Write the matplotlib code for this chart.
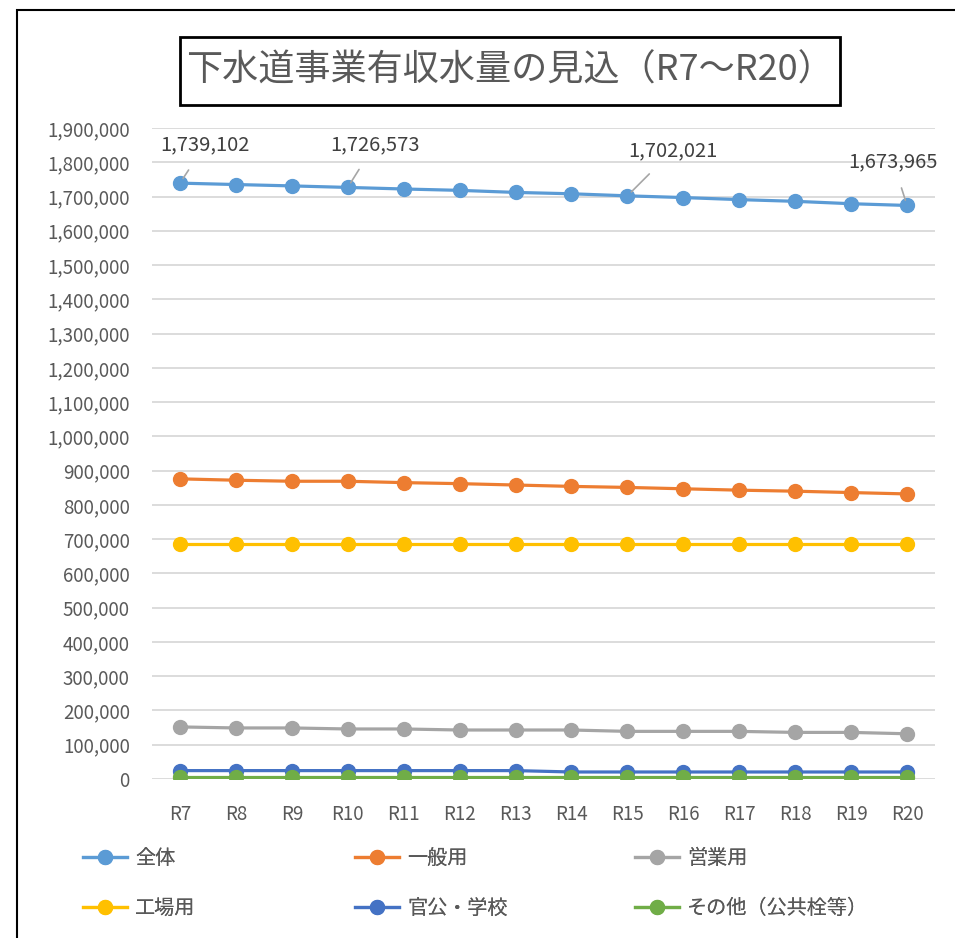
import matplotlib
matplotlib.use("Agg")
import matplotlib.pyplot as plt
from matplotlib.patches import Rectangle
from matplotlib.ticker import FuncFormatter

plt.rcParams['font.family'] = ['Noto Sans CJK JP', 'DejaVu Sans']

# データ
years = ['R7', 'R8', 'R9', 'R10', 'R11', 'R12', 'R13',
         'R14', 'R15', 'R16', 'R17', 'R18', 'R19', 'R20']
zentai = [1739102, 1735000, 1731000, 1726573, 1722000, 1718000, 1712000,
          1708000, 1702021, 1697000, 1691000, 1686000, 1679000, 1673965]
ippan = [876000, 872000, 869000, 869000, 865000, 862000, 858000,
         854000, 851000, 847000, 843000, 840000, 836000, 832000]
eigyo = [152000, 149000, 149000, 146000, 146000, 143000, 143000,
         143000, 139000, 139000, 139000, 136000, 136000, 132000]
kojo = [686000] * 14
kanko = [24500, 24500, 24500, 24500, 24500, 24500, 24500,
         20500, 20500, 20500, 20500, 20500, 20500, 20500]
sonota = [6000] * 14

series = [
    ('全体', zentai, '#5B9BD5'),
    ('一般用', ippan, '#ED7D31'),
    ('営業用', eigyo, '#A5A5A5'),
    ('工場用', kojo, '#FFC000'),
    ('官公・学校', kanko, '#4472C4'),
    ('その他（公共栓等）', sonota, '#70AD47'),
]

# ラベルを付ける点(インデックス)とオフセット(px)
label_idx = [0, 3, 8, 13]
label_off = [(25, 38), (27, 43), (45, 45), (-14, 44)]

W, H = 955, 938
fig = plt.figure(figsize=(W / 100, H / 100), dpi=100)
fig.patch.set_facecolor('white')

# 外枠
fig.patches.append(Rectangle((17 / W, -0.05), 1.1, 1 - 10 / H + 0.05,
                             transform=fig.transFigure, fill=False,
                             edgecolor='black', lw=1.5))

ax = fig.add_axes([152 / W, 1 - 779 / H, (935 - 152) / W, (779 - 128) / H])
x = list(range(len(years)))
lines = []
for name, vals, col in series:
    ln, = ax.plot(x, vals, color=col, lw=2.3, marker='o', markersize=10,
                  label=name, zorder=3)
    lines.append(ln)

for i, (dx, dy) in zip(label_idx, label_off):
    ax.annotate(f'{zentai[i]:,}', xy=(x[i], zentai[i]),
                xytext=(dx, dy), textcoords='offset pixels',
                ha='center', va='center', fontsize=14.5, color='#404040',
                arrowprops=dict(arrowstyle='-', color='#A6A6A6', lw=1.2,
                                shrinkA=10, shrinkB=4))

ax.set_xlim(-0.5, len(years) - 0.5)
ax.set_ylim(0, 1900000)
ax.set_yticks(range(0, 1900001, 100000))
ax.yaxis.set_major_formatter(FuncFormatter(lambda v, p: f'{int(v):,}'))
ax.set_xticks(x)
ax.set_xticklabels(years)
ax.tick_params(axis='both', length=0, labelsize=13.5, labelcolor='#595959')
ax.tick_params(axis='x', pad=18)
ax.tick_params(axis='y', pad=16)
ax.grid(axis='y', color='#D9D9D9', lw=1.3)
ax.set_axisbelow(True)
for s in ax.spines.values():
    s.set_visible(False)

# タイトル枠
fig.patches.append(Rectangle((180 / W, 1 - 105 / H), 660 / W, 68 / H,
                             transform=fig.transFigure, fill=False,
                             edgecolor='black', lw=2))
fig.text(510 / W, 1 - 71 / H, '下水道事業有収水量の見込（R7〜R20）',
         ha='center', va='center', fontsize=26, color='#595959')

# 凡例: 3列を等間隔に配置(列ごとに別の凡例)
legend_cols = [[0, 3], [1, 4], [2, 5]]
legend_x = [83, 355, 635]
for cols, lx in zip(legend_cols, legend_x):
    lg = fig.legend([lines[k] for k in cols], [series[k][0] for k in cols],
                    loc='upper left', bbox_to_anchor=(lx / W, 1 - 848 / H),
                    frameon=False, fontsize=14.5, handlelength=2.2,
                    borderpad=0, borderaxespad=0, labelspacing=1.45,
                    handletextpad=0.4, labelcolor='#595959')
    fig.add_artist(lg)

fig.savefig('out.png', dpi=100, facecolor='white')
